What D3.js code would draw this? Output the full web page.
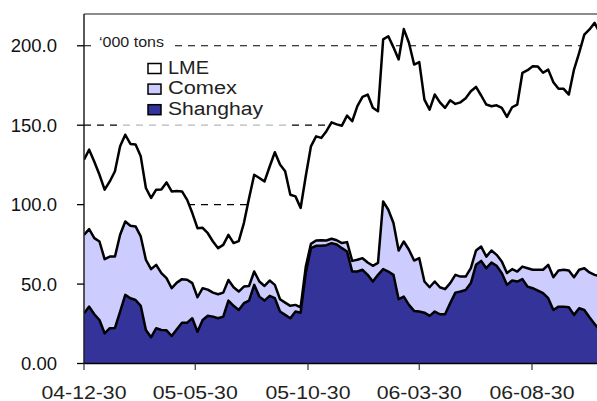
<!DOCTYPE html>
<html>
<head>
<meta charset="utf-8">
<script src="https://cdn.jsdelivr.net/npm/d3@7"></script>
<style>
    body { margin: 0; background: #fff; }
    svg { display: block; font-family: "Liberation Sans", Arial, sans-serif; }
</style>
</head>
<body>
<div id="chart"></div>
<script>
// Weekly stocks, '000 tons, from 2004-12-30
const shanghai = [
    31.6, 35.8, 31.0, 27.4, 19.0, 22.2, 22.4, 32.7, 43.2, 41.1,
    40.0, 36.3, 21.1, 16.5, 22.2, 21.1, 20.9, 17.3, 21.6, 25.7,
    25.7, 28.5, 20.0, 27.4, 30.0, 29.5, 28.5, 29.5, 39.6, 36.3,
    33.7, 38.0, 39.6, 49.5, 42.1, 39.6, 42.6, 41.1, 32.7, 30.6,
    28.5, 32.7, 32.0, 57.0, 72.6, 74.1, 74.1, 74.5, 75.8, 74.9,
    72.6, 70.5, 57.9, 57.9, 59.0, 55.8, 51.6, 55.8, 59.4, 57.9,
    55.8, 40.5, 42.1, 36.9, 33.1, 32.7, 32.0, 30.0, 32.7, 31.0,
    31.0, 38.0, 44.6, 45.3, 46.3, 50.6, 62.1, 64.6, 60.0, 63.6,
    61.5, 56.9, 49.5, 52.2, 51.6, 53.1, 48.4, 47.4, 45.9, 44.3,
    41.1, 33.7, 35.8, 35.8, 35.4, 30.6, 34.8, 33.7, 29.1, 24.9,
    21.0
];

const comex = [
    49.4, 48.8, 47.9, 49.4, 46.7, 45.1, 44.9, 48.3, 46.2, 45.6,
    46.3, 43.7, 44.2, 42.9, 39.9, 35.8, 32.8, 30.1, 29.3, 27.4,
    27.0, 22.1, 21.7, 20.0, 16.5, 15.1, 15.1, 15.1, 13.0, 11.7,
    11.6, 10.4, 9.2, 8.4, 9.5, 9.2, 9.6, 8.4, 7.8, 7.7,
    7.8, 4.2, 3.4, 4.0, 2.7, 3.3, 3.5, 2.9, 2.7, 2.7,
    3.2, 5.9, 6.7, 7.4, 7.3, 7.8, 9.9, 7.5, 42.6, 38.9,
    32.6, 30.6, 34.7, 34.7, 31.7, 33.6, 19.6, 18.0, 18.9, 17.0,
    15.8, 12.6, 11.2, 9.4, 8.4, 9.4, 9.0, 9.0, 7.3, 7.5,
    6.9, 7.3, 7.4, 7.2, 6.3, 7.9, 11.6, 11.6, 13.1, 14.7,
    21.0, 20.6, 22.7, 23.2, 23.1, 23.7, 24.2, 26.3, 28.2, 30.9,
    34.0
];

const lme = [
    47.3, 50.0, 48.1, 42.0, 43.7, 47.3, 53.7, 55.7, 54.6, 51.5,
    51.5, 50.4, 45.2, 44.8, 47.3, 52.7, 60.3, 60.9, 57.7, 55.2,
    50.3, 44.1, 43.5, 38.0, 35.5, 32.2, 29.0, 30.1, 28.4, 27.8,
    31.7, 40.0, 55.2, 60.9, 65.2, 65.8, 71.8, 83.5, 84.7, 82.7,
    69.9, 68.3, 62.5, 57.0, 61.4, 65.6, 64.4, 68.8, 73.3, 72.9,
    73.9, 79.6, 87.9, 96.7, 101.5, 105.7, 99.5, 95.5, 102.0, 109.2,
    110.6, 120.3, 133.7, 130.3, 123.4, 123.4, 114.5, 111.8, 117.7, 116.4,
    114.1, 115.1, 107.6, 109.7, 112.3, 111.4, 103.0, 95.1, 95.7, 90.8,
    94.1, 96.7, 98.3, 101.9, 105.1, 122.0, 124.6, 128.1, 127.9, 124.0,
    122.9, 122.7, 114.4, 113.9, 110.8, 130.7, 136.6, 147.0, 153.0, 158.6,
    153.0
];

const startDate = new Date(Date.UTC(2004, 11, 30));
const tickDates = [
    new Date(Date.UTC(2004, 11, 30)),
    new Date(Date.UTC(2005, 4, 30)),
    new Date(Date.UTC(2005, 9, 30)),
    new Date(Date.UTC(2006, 2, 30)),
    new Date(Date.UTC(2006, 7, 30))
];
const tickLabels = ['04-12-30', '05-05-30', '05-10-30', '06-03-30', '06-08-30'];
const yTicks = [0, 50, 100, 150, 200];
const yTickLabels = ['0.00', '50.0', '100.0', '150.0', '200.0'];
const seriesNames = ['LME', 'Comex', 'Shanghay'];
const seriesColors = { shanghai: '#333399', comex: '#CCCCFF', lme: '#FFFFFF' };

const width = 597, height = 401;
const plot = { left: 84, top: 14, right: 597, bottom: 363.5 };

const rows = shanghai.map((v, i) => ({
    date: d3.utcDay.offset(startDate, 7 * i),
    shanghai: v,
    comex: comex[i],
    lme: lme[i]
}));

const svg = d3.select('#chart').append('svg')
    .attr('width', width)
    .attr('height', height);

const x = d3.scaleUtc()
    .domain([tickDates[0], tickDates[4]])
    .range([plot.left, 532]);

const y = d3.scaleLinear()
    .domain([0, 220])
    .range([plot.bottom, plot.top]);

svg.append('defs').append('clipPath')
    .attr('id', 'plot-clip')
    .append('rect')
    .attr('x', plot.left)
    .attr('y', plot.top)
    .attr('width', plot.right - plot.left)
    .attr('height', plot.bottom - plot.top);

// Dashed gridlines (sit under the areas)
svg.append('g').selectAll('line')
    .data(yTicks.slice(1))
    .enter()
    .append('line')
    .attr('x1', plot.left)
    .attr('x2', plot.right)
    .attr('y1', d => y(d))
    .attr('y2', d => y(d))
    .attr('stroke', '#000')
    .attr('stroke-width', 1.2)
    .attr('stroke-dasharray', '7,6');

// Stacked areas
const stack = d3.stack().keys(['shanghai', 'comex', 'lme']);
const layers = stack(rows);

const area = d3.area()
    .x(d => x(d.data.date))
    .y0(d => y(d[0]))
    .y1(d => y(d[1]));

const line = d3.line()
    .x(d => x(d.data.date))
    .y(d => y(d[1]));

const g = svg.append('g').attr('clip-path', 'url(#plot-clip)');

g.selectAll('.layer')
    .data(layers)
    .enter()
    .append('path')
    .attr('class', 'layer')
    .attr('d', area)
    .attr('fill', d => seriesColors[d.key]);

g.selectAll('.edge')
    .data(layers)
    .enter()
    .append('path')
    .attr('class', 'edge')
    .attr('d', line)
    .attr('fill', 'none')
    .attr('stroke', '#000')
    .attr('stroke-width', 2.5)
    .attr('stroke-linejoin', 'round');

// Legend panel (semi-transparent, greys the gridline beneath)
svg.append('rect')
    .attr('x', 120)
    .attr('y', 54)
    .attr('width', 168)
    .attr('height', 74)
    .attr('fill', '#fff')
    .attr('opacity', 0.72);

const legendKeys = ['lme', 'comex', 'shanghai'];
const legendWidths = [41, 69, 95];
const legend = svg.append('g').attr('transform', 'translate(148, 63.5)');

const items = legend.selectAll('.legend-item')
    .data(legendKeys)
    .enter()
    .append('g')
    .attr('class', 'legend-item')
    .attr('transform', (d, i) => `translate(0, ${i * 20.6})`);

items.append('rect')
    .attr('width', 13)
    .attr('height', 10)
    .attr('fill', d => seriesColors[d])
    .attr('stroke', '#000')
    .attr('stroke-width', 1.5);

items.append('text')
    .attr('x', 20)
    .attr('y', 10.3)
    .attr('font-size', '18px')
    .attr('fill', '#222')
    .attr('textLength', (d, i) => legendWidths[i])
    .attr('lengthAdjust', 'spacingAndGlyphs')
    .text((d, i) => seriesNames[i]);

// Unit label with its own white box
svg.append('rect')
    .attr('x', 92)
    .attr('y', 30)
    .attr('width', 78)
    .attr('height', 19)
    .attr('fill', '#fff');

svg.append('text')
    .attr('x', 99)
    .attr('y', 46.5)
    .attr('font-size', '15.5px')
    .attr('fill', '#222')
    .attr('textLength', 65)
    .attr('lengthAdjust', 'spacingAndGlyphs')
    .text('\u2018000 tons');

// Plot frame top edge
svg.append('line')
    .attr('x1', plot.left)
    .attr('x2', plot.right)
    .attr('y1', plot.top)
    .attr('y2', plot.top)
    .attr('stroke', '#8c8c8c')
    .attr('stroke-width', 2);

// Y axis
svg.append('line')
    .attr('x1', plot.left)
    .attr('x2', plot.left)
    .attr('y1', plot.top)
    .attr('y2', plot.bottom)
    .attr('stroke', '#222')
    .attr('stroke-width', 1.5);

const yAxis = svg.append('g');
yAxis.selectAll('line')
    .data(yTicks)
    .enter()
    .append('line')
    .attr('x1', plot.left - 7)
    .attr('x2', plot.left)
    .attr('y1', d => y(d))
    .attr('y2', d => y(d))
    .attr('stroke', '#000')
    .attr('stroke-width', 1.3);

yAxis.selectAll('text')
    .data(yTicks)
    .enter()
    .append('text')
    .attr('x', 57)
    .attr('y', d => y(d))
    .attr('dy', '0.36em')
    .attr('text-anchor', 'end')
    .attr('font-size', '18.5px')
    .attr('fill', '#111')
    .text((d, i) => yTickLabels[i]);

// X axis
svg.append('line')
    .attr('x1', plot.left)
    .attr('x2', plot.right)
    .attr('y1', plot.bottom)
    .attr('y2', plot.bottom)
    .attr('stroke', '#000')
    .attr('stroke-width', 1.5);

const xAxis = svg.append('g');
xAxis.selectAll('line')
    .data(tickDates)
    .enter()
    .append('line')
    .attr('x1', d => x(d))
    .attr('x2', d => x(d))
    .attr('y1', plot.bottom)
    .attr('y2', plot.bottom + 6.5)
    .attr('stroke', '#444')
    .attr('stroke-width', 1.3);

xAxis.selectAll('text')
    .data(tickDates)
    .enter()
    .append('text')
    .attr('x', d => x(d))
    .attr('y', 398.5)
    .attr('text-anchor', 'middle')
    .attr('font-size', '18px')
    .attr('fill', '#222')
    .attr('textLength', 85)
    .attr('lengthAdjust', 'spacingAndGlyphs')
    .text((d, i) => tickLabels[i]);
</script>
</body>
</html>
